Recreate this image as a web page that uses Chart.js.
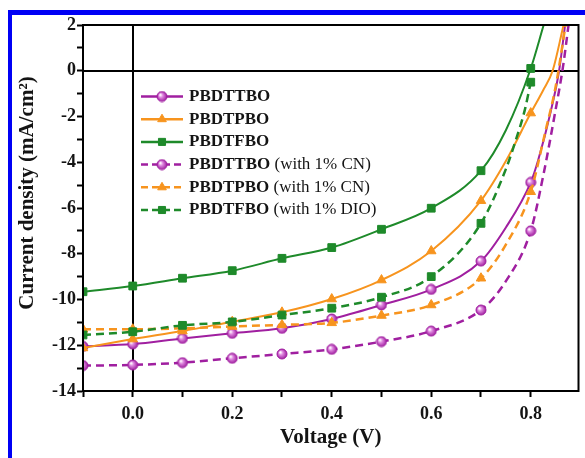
<!DOCTYPE html>
<html>
<head>
<meta charset="utf-8">
<script src="https://cdn.jsdelivr.net/npm/chart.js@4.4.1/dist/chart.umd.min.js"></script>
<style>
  html, body { margin: 0; padding: 0; background: #fff; }
  #wrap { position: relative; width: 585px; height: 458px; overflow: hidden; }
  #c { position: absolute; left: 0; top: 0; }
  .edge { position: absolute; background: #0000f5; }
</style>
</head>
<body>
<div id="wrap">
  <canvas id="c" width="585" height="458"></canvas>
  <div class="edge" style="left:8px;top:10px;width:4px;height:448px"></div>
  <div class="edge" style="left:8px;top:10px;width:577px;height:5px"></div>
</div>
<script>
// J–V curves (current density in mA/cm², voltage in V)
const seriesNames = ['PBDTTBO', 'PBDTPBO', 'PBDTFBO', 'PBDTTBO', 'PBDTPBO', 'PBDTFBO'];
const seriesNotes = ['', '', '', '(with 1% CN)', '(with 1% CN)', '(with 1% DIO)'];
const xTitle = 'Voltage (V)';
const yTitle = 'Current density (mA/cm²)';

const vTT = [-0.1, 0, 0.1, 0.2, 0.3, 0.4, 0.5, 0.6, 0.7, 0.75, 0.8, 0.815, 0.84, 0.857, 0.869];
const jTT = [-12.05, -11.95, -11.7, -11.48, -11.26, -10.85, -10.24, -9.56, -8.32, -6.85, -4.88, -3.9, -1.8, 0, 2];

const vTP = [-0.1, 0, 0.1, 0.2, 0.3, 0.4, 0.5, 0.6, 0.7, 0.75, 0.8, 0.825, 0.844, 0.866];
const jTP = [-12.12, -11.73, -11.38, -10.97, -10.56, -9.98, -9.15, -7.88, -5.68, -3.95, -1.85, -0.85, 0, 2];

const vTF = [-0.1, 0, 0.1, 0.2, 0.3, 0.4, 0.5, 0.6, 0.7, 0.75, 0.8, 0.826];
const jTF = [-9.66, -9.41, -9.07, -8.74, -8.2, -7.73, -6.93, -6.01, -4.37, -2.6, 0.1, 2];

const vTTcn = [-0.1, 0, 0.1, 0.2, 0.3, 0.4, 0.5, 0.6, 0.7, 0.75, 0.8, 0.825, 0.85, 0.865, 0.876];
const jTTcn = [-12.89, -12.86, -12.76, -12.57, -12.38, -12.18, -11.84, -11.38, -10.46, -9.2, -7.0, -4.6, -1.7, 0.2, 2];

const vTPcn = [-0.1, 0, 0.1, 0.2, 0.3, 0.4, 0.5, 0.6, 0.7, 0.75, 0.8, 0.83, 0.85, 0.87];
const jTPcn = [-11.3, -11.3, -11.26, -11.18, -11.11, -11.02, -10.7, -10.24, -9.07, -7.6, -5.29, -2.6, -0.7, 2];

const vTFdio = [-0.1, 0, 0.1, 0.2, 0.3, 0.4, 0.5, 0.6, 0.7, 0.75, 0.77, 0.788, 0.8];
const jTFdio = [-11.55, -11.41, -11.13, -10.98, -10.68, -10.38, -9.9, -9.0, -6.67, -4.3, -3.03, -1.72, -0.5];

const xTickValues = [-0.1, 0, 0.1, 0.2, 0.3, 0.4, 0.5, 0.6, 0.7, 0.8];
const yTickValues = [-14, -13, -12, -11, -10, -9, -8, -7, -6, -5, -4, -3, -2, -1, 0, 1, 2];

const PURPLE = '#a01fa0';
const ORANGE = '#f7941e';
const GREEN = '#1e8a2a';
const INK = '#141414';
const SERIF = '"Liberation Serif", "Times New Roman", serif';

// shaded sphere marker for the PBDTTBO curves
function sphere(r, color) {
  const c = document.createElement('canvas');
  c.width = c.height = 2 * r + 2;
  const g = c.getContext('2d');
  const cx = r + 1, cy = r + 1;
  const grad = g.createRadialGradient(cx - r * 0.35, cy - r * 0.35, 0.5, cx, cy, r);
  grad.addColorStop(0, '#ffffff');
  grad.addColorStop(0.35, '#e08ae0');
  grad.addColorStop(1, color);
  g.fillStyle = grad;
  g.beginPath(); g.arc(cx, cy, r, 0, Math.PI * 2); g.fill();
  g.strokeStyle = color; g.lineWidth = 1; g.stroke();
  return c;
}
const ball = sphere(5, PURPLE);

const toPoints = (xs, ys) => xs.map((x, i) => ({ x, y: ys[i] }));
const onStep = x => Math.abs(x * 10 - Math.round(x * 10)) < 1e-6;

function series(xs, ys, color, style, radius, dashed) {
  return {
    data: toPoints(xs, ys),
    borderColor: color,
    backgroundColor: color,
    borderWidth: dashed ? 2.5 : 2,
    borderDash: dashed ? [8, 5] : [],
    cubicInterpolationMode: 'monotone',
    pointStyle: style,
    markerRadius: radius,
    pointRadius: ctx => (ctx.raw && onStep(ctx.raw.x)) ? radius : 0,
    pointHoverRadius: 0,
    pointBorderWidth: 1,
    pointBorderColor: color,
    pointBackgroundColor: color
  };
}

const datasets = [
  series(vTFdio, jTFdio, GREEN, 'rect', 5.5, true),
  series(vTPcn, jTPcn, ORANGE, 'triangle', 5.5, true),
  series(vTTcn, jTTcn, PURPLE, ball, 5, true),
  series(vTF, jTF, GREEN, 'rect', 5.5, false),
  series(vTP, jTP, ORANGE, 'triangle', 5.5, false),
  series(vTT, jTT, PURPLE, ball, 5, false)
];
// legend order: plain films first, then the additive-processed films
const legendOrder = [5, 4, 3, 2, 1, 0];

const frameAndLegend = {
  id: 'frameAndLegend',
  beforeDatasetsDraw(chart) {
    const { ctx, chartArea: a, scales: { x, y } } = chart;
    ctx.save();
    ctx.strokeStyle = '#000';
    ctx.lineWidth = 2;
    const x0 = Math.round(x.getPixelForValue(0));
    const y0 = Math.round(y.getPixelForValue(0));
    ctx.beginPath();
    ctx.moveTo(x0, a.top); ctx.lineTo(x0, a.bottom);
    ctx.moveTo(a.left, y0); ctx.lineTo(a.right, y0);
    ctx.stroke();
    ctx.restore();
  },
  afterDatasetsDraw(chart) {
    const { ctx, chartArea: a } = chart;
    ctx.save();
    ctx.strokeStyle = '#000';
    ctx.lineWidth = 2;
    ctx.strokeRect(a.left, a.top, a.right - a.left, a.bottom - a.top);

    // vertical axis title, sitting a little above the plot's middle
    ctx.save();
    ctx.translate(28, 193);
    ctx.rotate(-Math.PI / 2);
    ctx.fillStyle = INK;
    ctx.font = 'bold 21px ' + SERIF;
    ctx.textAlign = 'center';
    ctx.textBaseline = 'middle';
    ctx.fillText(yTitle, 0, 0);
    ctx.restore();

    // legend
    const lx0 = 141, lx1 = 183, tx = 189, ty0 = 96.5, dy = 22.7;
    legendOrder.forEach((di, row) => {
      const ds = chart.data.datasets[di];
      const yy = ty0 + row * dy;
      ctx.save();
      ctx.strokeStyle = ds.borderColor;
      ctx.fillStyle = ds.borderColor;
      ctx.lineWidth = 2.5;
      ctx.setLineDash(ds.borderDash.length ? [7, 4] : []);
      ctx.beginPath(); ctx.moveTo(lx0, yy); ctx.lineTo(lx1, yy); ctx.stroke();
      ctx.setLineDash([]);
      ctx.lineWidth = 1;
      Chart.helpers.drawPoint(ctx, {
        pointStyle: ds.pointStyle, radius: ds.markerRadius - 0.5, rotation: 0, borderWidth: 1
      }, (lx0 + lx1) / 2, yy);
      ctx.restore();

      ctx.fillStyle = INK;
      ctx.textBaseline = 'middle';
      ctx.textAlign = 'left';
      ctx.font = 'bold 17px ' + SERIF;
      const name = seriesNames[row];
      ctx.fillText(name, tx, yy);
      const w = ctx.measureText(name).width;
      if (seriesNotes[row]) {
        ctx.font = '17px ' + SERIF;
        ctx.fillText(' ' + seriesNotes[row], tx + w, yy);
      }
    });
    ctx.restore();
  }
};

new Chart(document.getElementById('c'), {
  type: 'line',
  data: { datasets },
  options: {
    responsive: false,
    animation: false,
    devicePixelRatio: 1,
    layout: { padding: { left: 12, top: 25, right: 4, bottom: 0 } },
    plugins: { legend: { display: false }, tooltip: { enabled: false } },
    scales: {
      x: {
        type: 'linear',
        min: -0.1,
        max: 0.896,
        afterFit: s => { s.height = 67; },
        afterBuildTicks: s => { s.ticks = xTickValues.map(v => ({ value: v })); },
        grid: { drawOnChartArea: false, drawTicks: true, tickLength: 6, tickWidth: 2, tickColor: '#000' },
        border: { display: true, color: '#000', width: 2 },
        ticks: {
          autoSkip: false,
          maxRotation: 0,
          padding: 7,
          color: INK,
          font: { family: SERIF, size: 18, weight: 'bold' },
          callback: v => (Math.round(v * 10) % 2 === 0 ? v.toFixed(1) : '')
        },
        title: {
          display: true,
          text: xTitle,
          color: INK,
          font: { family: SERIF, size: 21, weight: 'bold' },
          padding: { top: 0, bottom: 8 }
        }
      },
      y: {
        type: 'linear',
        min: -14,
        max: 2,
        afterFit: s => { s.width = 71; },
        afterBuildTicks: s => { s.ticks = yTickValues.map(v => ({ value: v })); },
        grid: { drawOnChartArea: false, drawTicks: true, tickLength: 6, tickWidth: 2, tickColor: '#000' },
        border: { display: true, color: '#000', width: 2 },
        ticks: {
          autoSkip: false,
          padding: 1,
          color: INK,
          font: { family: SERIF, size: 18, weight: 'bold' },
          callback: v => (v % 2 === 0 ? String(v) : '')
        },
        title: { display: false }
      }
    }
  },
  plugins: [frameAndLegend]
});
</script>
</body>
</html>
